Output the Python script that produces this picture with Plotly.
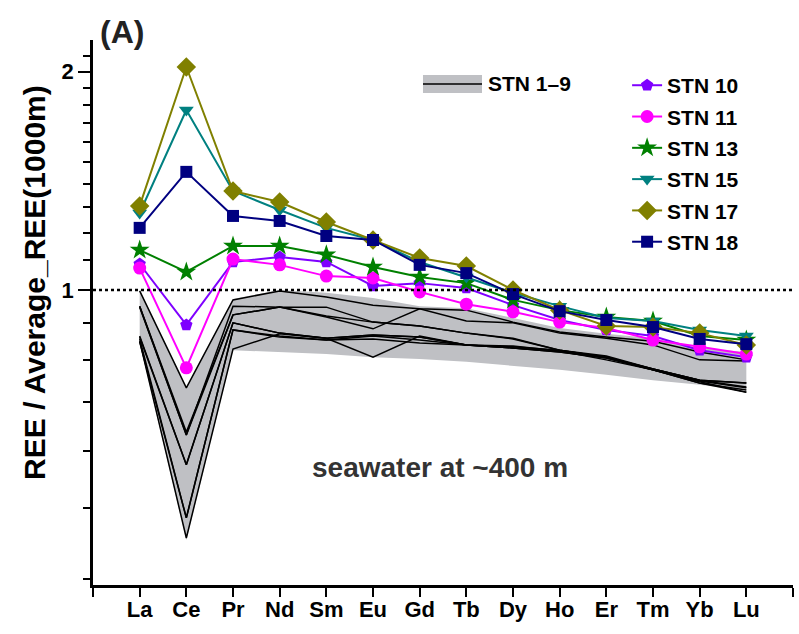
import plotly.graph_objects as go

elements = ["La", "Ce", "Pr", "Nd", "Sm", "Eu", "Gd", "Tb", "Dy", "Ho", "Er", "Tm", "Yb", "Lu"]

# STN 1-9 (seawater at ~400 m), nine profiles
stn1_9 = [
    [0.997, 0.733, 0.969, 0.997, 0.978, 0.953, 0.942, 0.938, 0.903, 0.875, 0.861, 0.850, 0.821, 0.801],
    [0.950, 0.637, 0.924, 0.947, 0.918, 0.884, 0.942, 0.906, 0.901, 0.872, 0.858, 0.840, 0.801, 0.798],
    [0.947, 0.631, 0.950, 0.947, 0.947, 0.903, 0.892, 0.872, 0.858, 0.826, 0.808, 0.778, 0.751, 0.744],
    [0.861, 0.574, 0.901, 0.872, 0.858, 0.867, 0.861, 0.840, 0.835, 0.826, 0.811, 0.778, 0.751, 0.735],
    [0.856, 0.485, 0.881, 0.864, 0.853, 0.856, 0.845, 0.840, 0.832, 0.821, 0.806, 0.776, 0.747, 0.723],
    [0.850, 0.455, 0.829, 0.870, 0.858, 0.808, 0.864, 0.840, 0.837, 0.824, 0.801, 0.776, 0.744, 0.723],
    [0.848, 0.485, 0.881, 0.861, 0.853, 0.864, 0.853, 0.840, 0.832, 0.821, 0.806, 0.776, 0.744, 0.728],
    [0.950, 0.631, 0.924, 0.947, 0.921, 0.903, 0.892, 0.872, 0.856, 0.826, 0.808, 0.778, 0.751, 0.744],
    [0.864, 0.574, 0.901, 0.872, 0.858, 0.867, 0.861, 0.840, 0.832, 0.824, 0.808, 0.776, 0.749, 0.733],
]
band_upper = [1.000, 0.733, 0.972, 1.000, 0.991, 0.975, 0.950, 0.944, 0.915, 0.886, 0.870, 0.858, 0.832, 0.821]
band_lower = [0.845, 0.452, 0.826, 0.821, 0.816, 0.808, 0.803, 0.796, 0.786, 0.776, 0.764, 0.751, 0.740, 0.726]

stn10 = [1.086, 0.895, 1.093, 1.110, 1.093, 1.013, 1.022, 1.006, 0.953, 0.909, 0.881, 0.864, 0.826, 0.808]
stn11 = [1.072, 0.781, 1.103, 1.083, 1.045, 1.039, 0.994, 0.956, 0.933, 0.903, 0.886, 0.853, 0.835, 0.816]
stn13 = [1.135, 1.059, 1.150, 1.150, 1.118, 1.076, 1.042, 1.022, 0.969, 0.938, 0.918, 0.906, 0.864, 0.853]
stn15 = [1.277, 1.771, 1.369, 1.289, 1.218, 1.172, 1.093, 1.042, 0.991, 0.950, 0.915, 0.906, 0.881, 0.864]
stn17 = [1.306, 2.030, 1.369, 1.322, 1.241, 1.172, 1.107, 1.079, 1.000, 0.938, 0.892, 0.889, 0.872, 0.840]
stn18 = [1.218, 1.455, 1.265, 1.245, 1.187, 1.172, 1.083, 1.055, 0.987, 0.935, 0.909, 0.889, 0.856, 0.842]

series = [
    ("STN 10", stn10, "#7f00ff", "pentagon", 13),
    ("STN 11", stn11, "#ff00ff", "circle", 13),
    ("STN 13", stn13, "#008000", "star", 15),
    ("STN 15", stn15, "#008080", "triangle-down", 13),
    ("STN 17", stn17, "#808000", "diamond", 15),
    ("STN 18", stn18, "#000080", "square", 12),
]

FONT = "Liberation Sans, Arial, sans-serif"
xi = list(range(len(elements)))

fig = go.Figure()

# gray band
fig.add_trace(go.Scatter(x=xi, y=band_upper, mode="lines", line=dict(width=0),
                         showlegend=False, hoverinfo="skip"))
fig.add_trace(go.Scatter(x=xi, y=band_lower, mode="lines", line=dict(width=0),
                         fill="tonexty", fillcolor="#bfc0c4", showlegend=False, hoverinfo="skip"))
for prof in stn1_9:
    fig.add_trace(go.Scatter(x=xi, y=prof, mode="lines", line=dict(color="black", width=1.5),
                             showlegend=False, hoverinfo="skip"))

for name, vals, color, sym, size in series:
    fig.add_trace(go.Scatter(x=xi, y=vals, mode="lines+markers", name=name,
                             legendgroup=name,
                             line=dict(color=color, width=2),
                             marker=dict(symbol=sym, size=size, color=color)))

# reference line at 1
fig.add_shape(type="line", xref="paper", yref="y", x0=0, x1=1, y0=1, y1=1,
              line=dict(color="black", width=2.5, dash="dot"))

# legend entry for STN 1-9
fig.add_shape(type="rect", xref="paper", yref="paper", x0=0.4714, x1=0.5557, y0=0.9028, y1=0.9358,
              fillcolor="#bfc0c4", line=dict(width=0))
fig.add_shape(type="line", xref="paper", yref="paper", x0=0.4714, x1=0.5557, y0=0.9193, y1=0.9193,
              line=dict(color="black", width=1.5))
fig.add_annotation(xref="paper", yref="paper", x=0.5614, y=0.9193, text="STN 1\u20139",
                   showarrow=False, xanchor="left", yanchor="middle",
                   font=dict(family=FONT, size=21, color="black", weight="bold"))

fig.add_annotation(xref="paper", yref="paper", x=0.496, y=0.2165, text="seawater at ~400 m",
                   showarrow=False, xanchor="center", yanchor="middle",
                   font=dict(family=FONT, size=28, color="#333333", weight="bold"))
fig.add_annotation(xref="paper", yref="paper", x=0.007, y=1.0147, text="(A)",
                   showarrow=False, xanchor="left", yanchor="middle",
                   font=dict(family=FONT, size=32, color="#222222", weight="bold"))
fig.add_annotation(xref="paper", yref="paper", x=-0.083, y=0.556, text="REE / Average_REE(1000m)",
                   showarrow=False, xanchor="center", yanchor="middle", textangle=-90,
                   font=dict(family=FONT, size=30, color="black", weight="bold"))

fig.update_xaxes(range=[-1, 14], tickmode="array", tickvals=list(range(-1, 15)),
                 ticktext=[""] + elements + [""], ticks="outside", ticklen=9, tickwidth=2,
                 tickcolor="black", showline=True, linecolor="black", linewidth=2.5,
                 showgrid=False, zeroline=False, ticklabelstandoff=-6,
                 tickfont=dict(family=FONT, size=22, color="black", weight="bold"))

minor_vals = [0.4, 0.5, 0.6, 0.7, 0.8, 0.9, 1.1, 1.2, 1.3, 1.4, 1.5, 1.6, 1.7, 1.8, 1.9, 2.1]
fig.update_yaxes(type="log", range=[-0.4068, 0.3447], tickmode="array", tickvals=[1, 2],
                 ticktext=["1", "2"], ticks="outside", ticklen=12, tickwidth=2, tickcolor="black",
                 showline=True, linecolor="black", linewidth=2.5, showgrid=False, zeroline=False,
                 tickfont=dict(family=FONT, size=22, color="black", weight="bold"),
                 minor=dict(tickmode="array", tickvals=minor_vals, ticks="outside", ticklen=7,
                            tickwidth=2, tickcolor="black", showgrid=False))

fig.update_layout(
    width=799, height=634,
    margin=dict(l=93, r=6, t=40, b=49),
    paper_bgcolor="white", plot_bgcolor="white",
    showlegend=True,
    legend=dict(x=0.763, y=0.954, xanchor="left", yanchor="top",
                font=dict(family=FONT, size=21, color="black", weight="bold"),
                tracegroupgap=1, bgcolor="rgba(0,0,0,0)"),
)

fig.write_html("out.html", config={"displayModeBar": False},
               post_script="document.body.style.margin='0';")
